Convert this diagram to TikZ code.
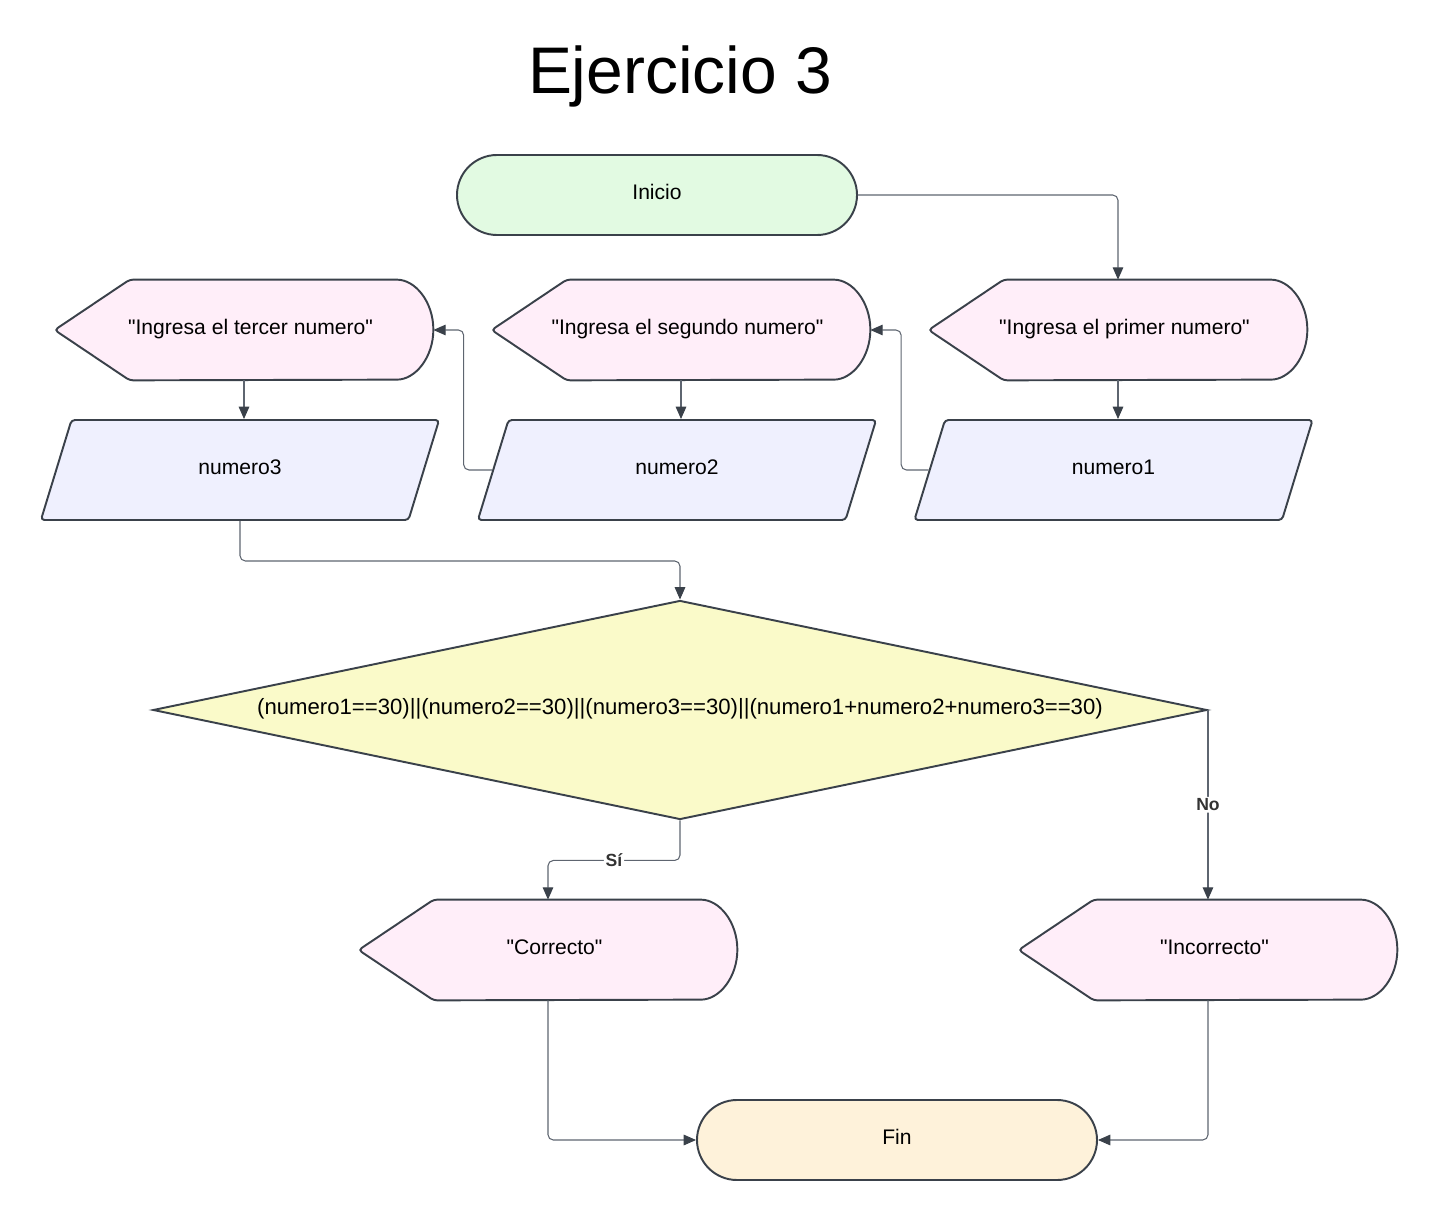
\documentclass[tikz,border=0pt]{standalone}
\usepackage{fontspec}
\setmainfont{Liberation Sans}[Ligatures=TeXOff]
\usetikzlibrary{shapes}
\usetikzlibrary{arrows.meta}
\usetikzlibrary{backgrounds}
\definecolor{edge}{HTML}{3A414A}
\definecolor{wire}{HTML}{5E6570}
\definecolor{mint}{HTML}{E2FAE2}
\definecolor{blush}{HTML}{FFEEF9}
\definecolor{lavender}{HTML}{EFF0FE}
\definecolor{lemon}{HTML}{FAFAC9}
\definecolor{peach}{HTML}{FEF2DA}
\definecolor{labeltext}{HTML}{333333}

\begin{document}
\begin{tikzpicture}
	\tikzstyle{base} = [draw=edge, line width=1.1pt, text=black, font=\fontsize{12}{14}\selectfont, align=center, text height=9pt, text depth=4pt]
	\tikzstyle{terminal} = [base, rectangle, rounded corners=0.8cm, minimum width=8cm, minimum height=1.6cm]
	\tikzstyle{display} = [rectangle, inner sep=0pt, minimum width=7.56cm, minimum height=2cm, font=\fontsize{12}{14}\selectfont, text height=9pt, text depth=4pt, execute at begin node=\hspace*{0.26cm}]
	\tikzstyle{datain} = [base, trapezium, trapezium left angle=76, trapezium right angle=104, trapezium stretches=true, minimum width=8cm, minimum height=2cm, rounded corners=2pt, fill=lavender]
	\tikzstyle{decision} = [base, diamond, aspect=4.8, minimum width=21.08cm, minimum height=4.38cm, inner sep=0pt, fill=lemon, font=\fontsize{12.6}{14}\selectfont]
	\tikzstyle{conn} = [draw=wire, line width=0.6pt, rounded corners=3pt, -{Triangle[length=7pt, width=6pt, color=edge]}]
	\tikzstyle{lbl} = [fill=white, inner sep=1pt, text=labeltext, font=\fontsize{10}{12}\selectfont\bfseries]
	\useasboundingbox (0,0) rectangle (28.74,-24.4);
	\node (titulo)[anchor=base] at (13.6,-1.88) {\fontsize{37.5}{40}\selectfont Ejercicio 3};
	\node (inicio)[terminal, fill=mint] at (13.14,-3.9) {Inicio};
	% mensajes de entrada
	\node (tercer)[display] at (4.88,-6.6) {"Ingresa el tercer numero"};
	\node (segundo)[display] at (13.62,-6.6) {"Ingresa el segundo numero"};
	\node (primer)[display] at (22.36,-6.6) {"Ingresa el primer numero"};
	\node (numero3)[datain] at (4.8,-9.4) {numero3};
	\node (numero2)[datain] at (13.54,-9.4) {numero2};
	\node (numero1)[datain] at (22.27,-9.4) {numero1};
	\node (cond)[decision] at (13.6,-14.2) {(numero1==30)||(numero2==30)||(numero3==30)||(numero1+numero2+numero3==30)};
	\node (correcto)[display] at (10.96,-19.0) {"Correcto"};
	\node (incorrecto)[display] at (24.16,-19.0) {"Incorrecto"};
	\node (fin)[terminal, fill=peach] at (17.94,-22.8) {Fin};
	% forma de pantalla
	\begin{scope}[on background layer]
		\foreach \n in {tercer,segundo,primer,correcto,incorrecto}
			\draw[base, fill=blush, rounded corners=2pt] (\n.west) -- ([xshift=1.5cm]\n.north west) -- ([xshift=-0.8cm]\n.north east) arc[start angle=90, end angle=-90, x radius=0.8cm, y radius=1cm] -- ([xshift=1.5cm]\n.south west) -- cycle;
	\end{scope}
	\draw[conn] (inicio.east) -| (primer.north);
	\draw[conn] (primer.south) -- (primer.south |- numero1.north);
	\draw[conn] (numero1.west) -- ++(-0.55,0) |- (segundo.east);
	\draw[conn] (segundo.south) -- (segundo.south |- numero2.north);
	\draw[conn] (numero2.west) -- ++(-0.57,0) |- (tercer.east);
	\draw[conn] (tercer.south) -- (tercer.south |- numero3.north);
	\draw[conn] (numero3.south) -- ++(0,-0.8) -| (cond.north);
	\draw[conn] (cond.south) -- ++(0,-0.8) -| node[lbl, pos=0.25] {Sí} (correcto.north);
	\draw[conn] (cond.east) -- node[lbl] {No} (cond.east |- incorrecto.north);
	\draw[conn] (correcto.south) |- (fin.west);
	\draw[conn] (incorrecto.south) |- (fin.east);
\end{tikzpicture}
\end{document}
